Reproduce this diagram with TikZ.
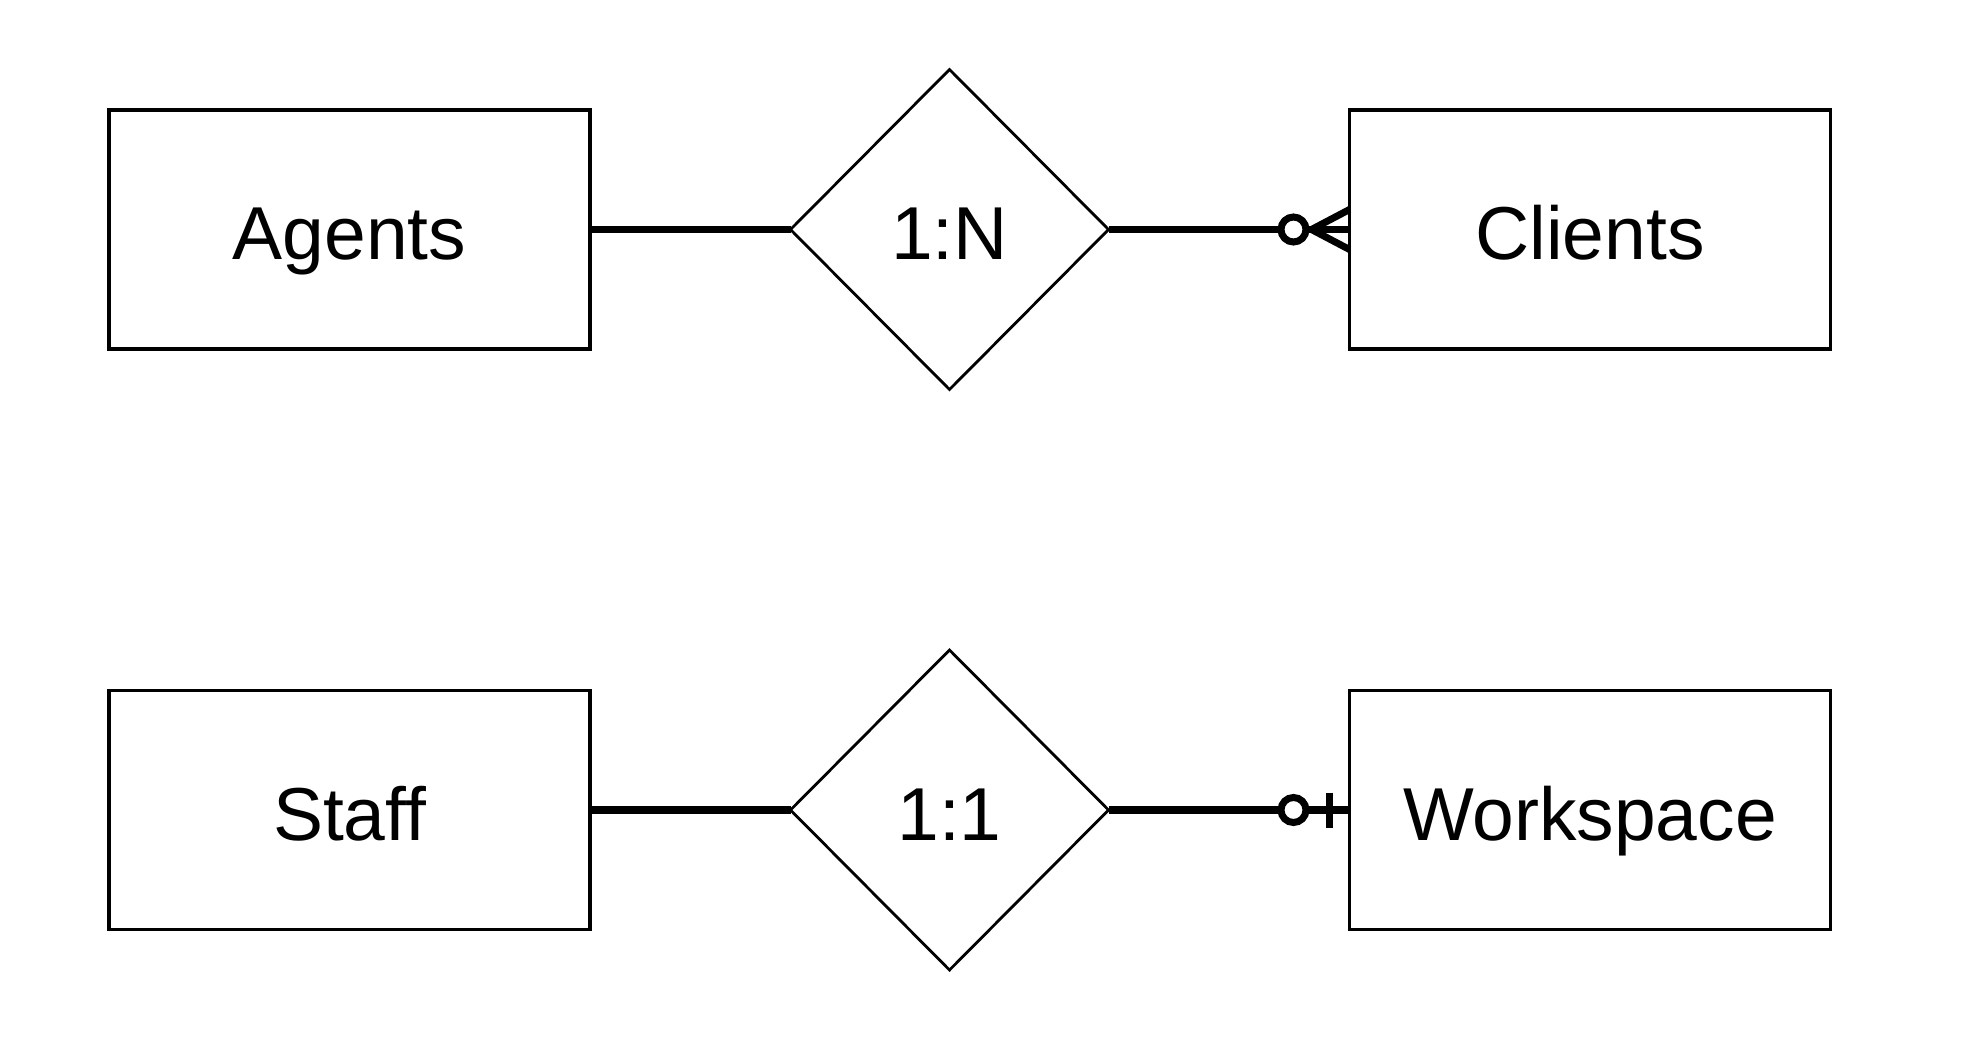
\documentclass[tikz,border=0pt]{standalone}
\usepackage{fontspec}
\setmainfont{Liberation Sans}
\usetikzlibrary{shapes.geometric,calc}
\begin{document}
\begin{tikzpicture}[x=1pt,y=-1pt,
  label text/.style={font=\fontsize{75}{90}\selectfont,text height=60pt,text depth=0pt},
  entity/.style={draw,line width=3.4pt,minimum width=481pt,minimum height=239pt,
    inner sep=0pt,outer sep=0pt,label text},
  relation/.style={draw,diamond,line width=2.8pt,minimum width=318pt,minimum height=320pt,
    inner sep=0pt,outer sep=0pt,label text},
  link/.style={line width=7.5pt},
  marker/.style={line width=7pt,line cap=butt}]
\useasboundingbox (0,0) rectangle (1982,1042);

% upper pair: Agents -- 1:N -- Clients
\node[entity] (agents) at (349.5,229.5) {Agents};
\node[relation] (rel1) at (949.5,229.5) {1:N};
\node[entity] (clients) at (1590,229.5) {Clients};

% lower pair: Staff -- 1:1 -- Workspace
\node[entity] (staff) at (349.5,810) {Staff};
\node[relation] (rel2) at (949.5,810) {1:1};
\node[entity] (workspace) at (1590,810) {Workspace};

\draw[link] (agents.east) -- (rel1.west);
\draw[link] (rel1.east) -- (clients.west);
\draw[link] (staff.east) -- (rel2.west);
\draw[link] (rel2.east) -- (workspace.west);

% zero-or-many end at Clients
\coordinate (cfoot) at ($(clients.west)+(-38,0)$);
\draw[marker] (cfoot) -- ($(clients.west)+(0,-20)$);
\draw[marker] (cfoot) -- ($(clients.west)+(0,20)$);
\draw[marker,fill=white] ($(clients.west)+(-56,0)$) circle (12.5);

% zero-or-one end at Workspace
\draw[marker] ($(workspace.west)+(-20,-17.5)$) -- ($(workspace.west)+(-20,17.5)$);
\draw[marker,fill=white] ($(workspace.west)+(-56,0)$) circle (12.5);
\end{tikzpicture}
\end{document}
